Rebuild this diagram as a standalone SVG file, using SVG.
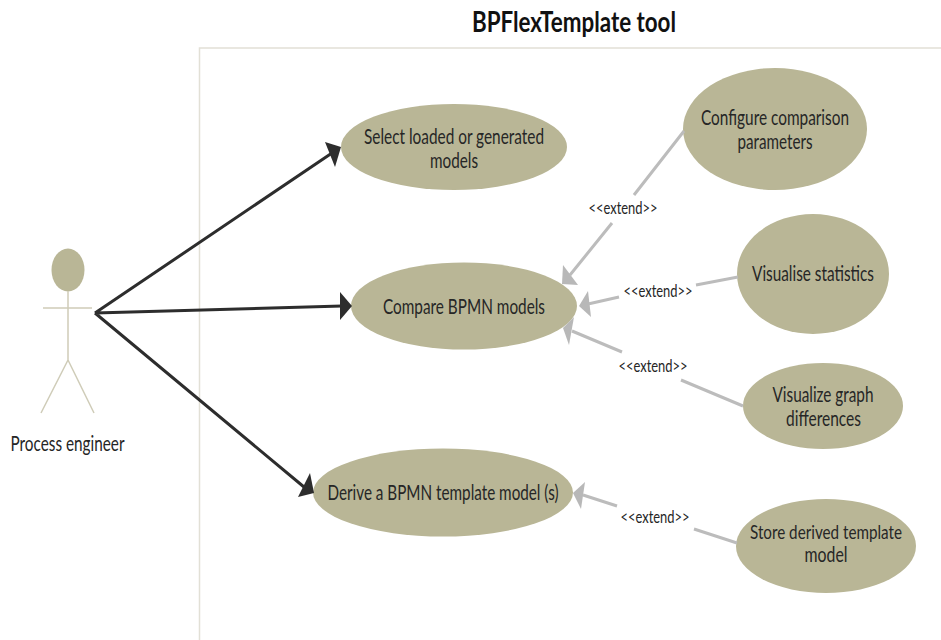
<svg xmlns="http://www.w3.org/2000/svg" width="941" height="640" viewBox="0 0 941 640">
<style>
text{font-family:Lato,"Liberation Sans",sans-serif;fill:#262626;text-anchor:middle}
.n{font-size:20.5px}
.s{font-size:19px}
.e{font-size:16.5px}
.t{font-size:28px;font-weight:700;fill:#111}
ellipse{fill:#b9b696}
.a{stroke:#cfccb8;stroke-width:1.500;fill:none}
.d{stroke:#2d2d2d;stroke-width:3;fill:none}
.g{stroke:#bcbcbc;stroke-width:3;fill:none}
.ha{fill:#2d2d2d}
.hb{fill:#b8b8b8}
</style>
<text class="t" x="574" y="32" textLength="204" lengthAdjust="spacingAndGlyphs">BPFlexTemplate tool</text>
<path d="M941 48H199.500V640" fill="none" stroke="#e2e0d6" stroke-width="1.500"/>
<g id="actor">
<ellipse cx="68" cy="270" rx="16.500" ry="21.500"/>
<path class="a" d="M68 291V360M43 308H92M68 360L41 413M68 360L94 413"/>
<text class="n" x="67.500" y="451" textLength="114" lengthAdjust="spacingAndGlyphs">Process engineer</text>
</g>
<g id="select">
<ellipse cx="454" cy="147" rx="113" ry="43"/>
<text class="n" x="454" y="144" textLength="180" lengthAdjust="spacingAndGlyphs">Select loaded or generated</text>
<text class="n" x="454" y="168" textLength="48" lengthAdjust="spacingAndGlyphs">models</text>
</g>
<g id="compare">
<ellipse cx="464" cy="306" rx="113" ry="43.500"/>
<text class="n" x="464" y="314" textLength="162" lengthAdjust="spacingAndGlyphs">Compare BPMN models</text>
</g>
<g id="derive">
<ellipse cx="443" cy="492.500" rx="130" ry="44"/>
<text class="n" x="443" y="500" textLength="231" lengthAdjust="spacingAndGlyphs">Derive a BPMN template model (s)</text>
</g>
<g id="configure">
<ellipse cx="775" cy="129" rx="92" ry="61"/>
<text class="n" x="775" y="125" textLength="148" lengthAdjust="spacingAndGlyphs">Configure comparison</text>
<text class="n" x="775" y="149" textLength="75" lengthAdjust="spacingAndGlyphs">parameters</text>
</g>
<g id="statistics">
<ellipse cx="813" cy="274" rx="76" ry="60"/>
<text class="n" x="813" y="281" textLength="122" lengthAdjust="spacingAndGlyphs">Visualise statistics</text>
</g>
<g id="graph">
<ellipse cx="823" cy="406" rx="80" ry="43"/>
<text class="n" x="823" y="402" textLength="101" lengthAdjust="spacingAndGlyphs">Visualize graph</text>
<text class="n" x="823.500" y="426" textLength="75" lengthAdjust="spacingAndGlyphs">differences</text>
</g>
<g id="store">
<ellipse cx="826" cy="546" rx="90" ry="47"/>
<text class="s" x="826" y="539" textLength="152" lengthAdjust="spacingAndGlyphs">Store derived template</text>
<text class="n" x="826" y="562" textLength="43" lengthAdjust="spacingAndGlyphs">model</text>
</g>
<g id="connectors">
<path class="d" d="M95 313L332 153M95 313L342 306M95 313L304 487"/>
<polygon class="ha" points="341,147 325,142 335,167"/>
<polygon class="ha" points="352,306 340,292 340,320"/>
<polygon class="ha" points="314,493 298,497 310,473"/>
<path class="g" d="M684 131L634 195M612 223L570 275M738 277L696 285M619 297L588 304M743 406L681 380M622 352L572 331M737 543L694 529M617 506L583 495"/>
<polygon class="hb" points="563,265 578,285 562,284"/>
<polygon class="hb" points="579,306 588,291 591,317"/>
<polygon class="hb" points="574,317 569,345 563,328"/>
<polygon class="hb" points="573,493 585,482 581,509"/>
</g>
<g id="extend-labels">
<text class="e" x="623" y="214" textLength="69" lengthAdjust="spacingAndGlyphs">&lt;&lt;extend&gt;&gt;</text>
<text class="e" x="658" y="297" textLength="69" lengthAdjust="spacingAndGlyphs">&lt;&lt;extend&gt;&gt;</text>
<text class="e" x="653" y="372" textLength="69" lengthAdjust="spacingAndGlyphs">&lt;&lt;extend&gt;&gt;</text>
<text class="e" x="655" y="523" textLength="69" lengthAdjust="spacingAndGlyphs">&lt;&lt;extend&gt;&gt;</text>
</g>
</svg>
